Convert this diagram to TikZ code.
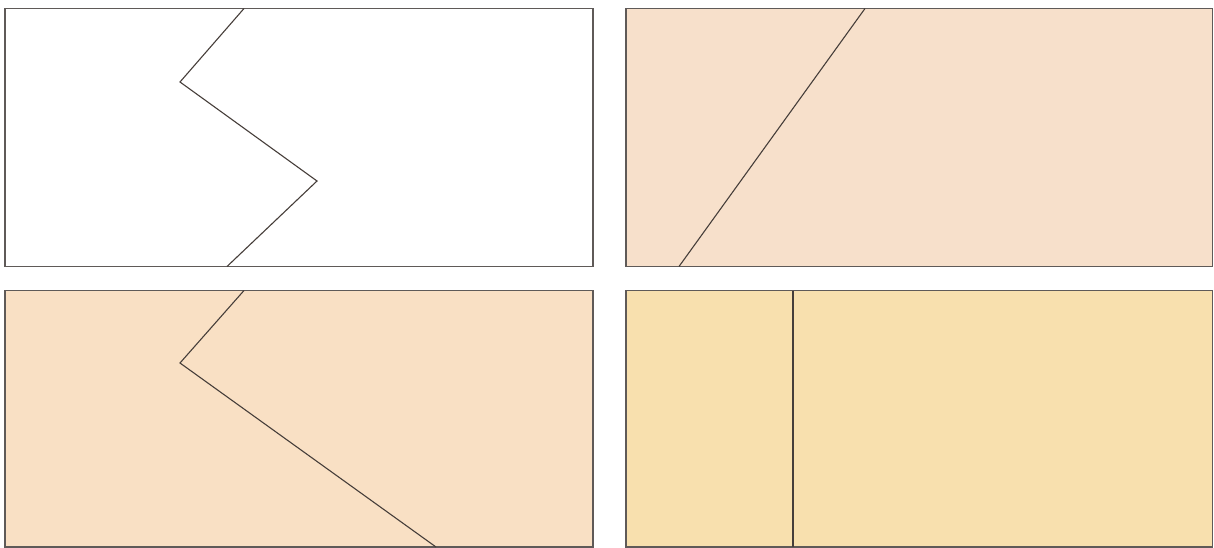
\documentclass[tikz,border=0pt]{standalone}
\definecolor{peachA}{RGB}{247,224,203}
\definecolor{peachB}{RGB}{249,224,196}
\definecolor{sandC}{RGB}{248,224,174}
\definecolor{frameC}{RGB}{95,90,88}
\definecolor{lineC}{RGB}{70,62,58}
\begin{document}
\begin{tikzpicture}[x=1pt,y=-1pt,
  panel/.style={draw=frameC,line width=1.1pt},
  cut/.style={draw=lineC,line width=1.1pt,line join=miter}]
\useasboundingbox (0,0) rectangle (1214,548);
\fill[white] (0,0) rectangle (1214,548);
% panel 1
\draw[panel,fill=white] (5,8.5) rectangle (593,266.5);
\draw[cut] (244,8.5) -- (180,82) -- (317,181) -- (227,266.5);
% panel 2
\draw[panel,fill=peachA] (626,8.5) rectangle (1212.5,266.5);
\draw[cut] (865,8.5) -- (679,266.5);
% panel 3
\draw[panel,fill=peachB] (5,290.5) rectangle (593,547);
\draw[cut] (244,290.5) -- (180,363) -- (436,547);
% panel 4
\draw[panel,fill=sandC] (626,290.5) rectangle (1212.5,547);
\draw[cut] (793,290.5) -- (793,547);
\end{tikzpicture}
\end{document}
